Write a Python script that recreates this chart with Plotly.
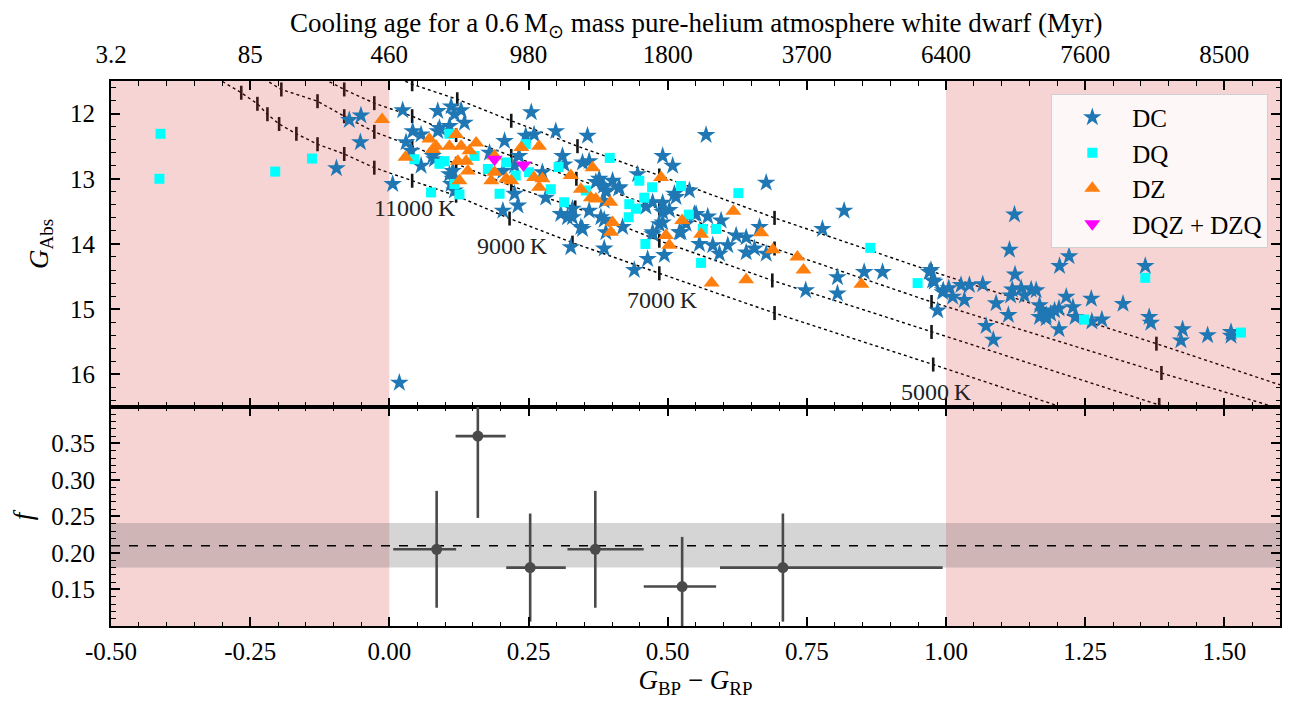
import plotly.graph_objects as go

# ---------------- axis / tick data ----------------
x_range = [-0.5, 1.6]
g_range = [16.5, 11.5]
f_range = [0.10, 0.40]
color_ticks = [-0.5, -0.25, 0.0, 0.25, 0.5, 0.75, 1.0, 1.25, 1.5]
color_ticklabels = ["-0.50", "-0.25", "0.00", "0.25", "0.50", "0.75", "1.00", "1.25", "1.50"]
age_ticklabels = ["3.2", "85", "460", "980", "1800", "3700", "6400", "7600", "8500"]
age_title = "Cooling age for a 0.6\u2009M<sub>\u2299</sub> mass pure-helium atmosphere white dwarf (Myr)"
g_ticks = [12, 13, 14, 15, 16]
f_ticks = [0.15, 0.20, 0.25, 0.30, 0.35]
excluded_ranges = [(-0.5, 0.0), (1.0, 1.6)]

# ---------------- cooling tracks (colour, G) with temperature ticks ----------------
trackA_x = [0.009, 0.041, 0.122, 0.219, 0.338, 0.485, 0.692, 0.974, 1.378, 1.617]
trackA_g = [11.43, 11.55, 11.78, 12.11, 12.50, 12.95, 13.60, 14.42, 15.53, 16.21]
trackB_x = [-0.117, -0.081, -0.027, 0.041, 0.120, 0.219, 0.336, 0.485, 0.692, 0.974, 1.387, 1.617]
trackB_g = [11.47, 11.63, 11.84, 12.04, 12.33, 12.65, 13.00, 13.46, 14.07, 14.89, 15.98, 16.57]
trackC_x = [-0.225, -0.194, -0.129, -0.081, -0.027, 0.041, 0.120, 0.219, 0.334, 0.485, 0.688, 0.974, 1.383, 1.455]
trackC_g = [11.47, 11.63, 11.81, 12.04, 12.28, 12.50, 12.77, 13.11, 13.44, 13.95, 14.56, 15.35, 16.47, 16.69]
trackD_x = [-0.309, -0.266, -0.237, -0.219, -0.198, -0.167, -0.129, -0.081, -0.027, 0.041, 0.120,
            0.216, 0.329, 0.485, 0.692, 0.977, 1.221]
trackD_g = [11.46, 11.68, 11.85, 12.01, 12.16, 12.31, 12.47, 12.62, 12.83, 13.03, 13.26,
            13.61, 13.98, 14.45, 15.06, 15.85, 16.54]
temp_labels = ["11000\u2009K", "9000\u2009K", "7000\u2009K", "5000\u2009K"]
temp_label_idx = [9, 11, 13, 15]   # positions on track D

# ---------------- spectral classes ----------------
dc_x = [-0.072, -0.051, -0.052, -0.095, 0.006,
        0.024, 0.087, 0.111, 0.129, 0.135, 0.117, 0.042, 0.057, 0.087, 0.090, 0.108,
        0.030, 0.039, 0.081, 0.078, 0.057, 0.114, 0.108, 0.111, 0.117, 0.114, 0.180,
        0.207, 0.255, 0.245, 0.260, 0.299, 0.356, 0.311, 0.314, 0.347, 0.359, 0.377, 0.401,
        0.413, 0.389, 0.371, 0.225, 0.231, 0.204, 0.275, 0.281, 0.329, 0.329, 0.347, 0.380,
        0.359, 0.386, 0.308, 0.320, 0.344, 0.389, 0.419, 0.326, 0.386, 0.464, 0.440, 0.494,
        0.491, 0.509, 0.473, 0.491, 0.512, 0.473, 0.491, 0.524, 0.539, 0.548, 0.533,
        0.233, 0.204, 0.225, 0.569, 0.446, 0.385, 0.412, 0.390, 0.677, 0.515, 0.491, 0.503,
        0.461, 0.551, 0.572, 0.596, 0.386, 0.485, 0.521, 0.473, 0.557, 0.581, 0.608, 0.623,
        0.641, 0.641, 0.656, 0.677, 0.665, 0.593, 0.748, 0.805, 0.805, 0.853, 0.886, 0.778,
        0.817, 0.970, 0.976, 0.995, 0.985,
        1.123, 1.114, 1.124, 1.204, 1.221, 1.358, 0.973, 0.979, 0.994, 1.005, 1.012, 1.027,
        1.033, 1.042, 1.066, 1.090, 1.072, 1.085, 1.112, 1.116, 1.119, 1.135, 1.141, 1.153,
        1.162, 1.168, 1.174, 1.180, 1.188, 1.195, 1.203, 1.168, 1.180, 1.216, 1.228, 1.232,
        1.203, 1.261, 1.262, 1.280, 1.318, 1.365, 1.368, 1.425, 1.422, 1.470, 1.512, 1.512,
        0.018]
dc_g = [12.10, 12.03, 12.44, 12.84, 13.08,
        11.95, 11.96, 11.89, 11.95, 12.14, 12.01, 12.27, 12.32, 12.27, 12.22, 12.19,
        12.44, 12.57, 12.70, 12.65, 12.80, 12.88, 12.93, 13.08, 13.18, 13.00, 12.60,
        12.42, 11.98, 12.34, 12.32, 12.27, 12.34, 12.65, 12.78, 12.75, 12.73, 13.00, 13.03,
        13.13, 13.18, 13.05, 13.23, 13.41, 13.49, 12.90, 13.29, 13.46, 13.59, 13.77, 13.59,
        13.49, 13.34, 13.54, 13.59, 13.74, 13.82, 13.74, 14.05, 14.07, 14.23, 14.40, 14.17,
        12.65, 12.80, 13.36, 13.51, 13.23, 13.82, 13.67, 13.82, 13.18, 13.54, 13.69,
        12.65, 12.88, 12.80, 12.33, 12.93, 13.11, 13.15, 13.20, 13.06, 13.28, 13.37, 13.48,
        13.43, 13.54, 13.58, 13.64, 13.63, 13.70, 13.82, 13.85, 14.00, 14.02, 14.02, 13.87,
        13.90, 14.13, 14.07, 14.15, 13.74, 14.15, 14.71, 14.51, 14.76, 14.43, 14.43, 13.77,
        13.49, 14.43, 14.56, 14.71, 15.02,
        13.55, 14.09, 14.47, 14.34, 14.19, 14.34, 14.40, 14.58, 14.74, 14.68, 14.81, 14.63,
        14.86, 14.63, 14.62, 14.91, 15.26, 15.47, 15.09, 14.79, 14.70, 14.68, 14.79, 14.70,
        14.71, 14.94, 15.04, 15.09, 15.07, 15.02, 14.99, 15.12, 15.14, 14.81, 14.97, 15.12,
        15.31, 14.84, 15.19, 15.16, 14.92, 15.12, 15.21, 15.31, 15.48, 15.40, 15.35, 15.41,
        16.13]

dq_x = [-0.411, -0.413, -0.205, -0.139,
        0.045, 0.075, 0.126, 0.108, 0.090, 0.099, 0.117, 0.153, 0.177, 0.198, 0.210, 0.227,
        0.245, 0.251, 0.290, 0.304, 0.314, 0.353,
        0.396, 0.431, 0.449, 0.458, 0.443, 0.430, 0.472, 0.524, 0.460, 0.538, 0.563, 0.587,
        0.560, 0.627, 0.864, 0.949,
        1.358, 1.248, 1.530]
dq_g = [12.31, 13.00, 12.89, 12.69,
        12.70, 13.21, 13.24, 12.31, 12.77, 12.73, 13.08, 12.65, 12.85, 13.23, 12.75, 12.95,
        12.47, 12.90, 13.16, 12.82, 13.36, 13.18,
        12.68, 13.39, 13.03, 13.29, 13.46, 13.59, 13.13, 13.11, 14.00, 13.55, 13.77, 13.77,
        14.29, 13.22, 14.06, 14.60,
        14.52, 15.16, 15.36]

dz_x = [-0.013,
        0.029, 0.072, 0.084, 0.078, 0.120, 0.108, 0.129, 0.144, 0.156, 0.123, 0.138, 0.141, 0.126,
        0.189, 0.189, 0.183, 0.210, 0.219, 0.237, 0.269, 0.260, 0.275, 0.269, 0.326, 0.344,
        0.365, 0.362, 0.371, 0.397, 0.401, 0.398,
        0.488, 0.526, 0.497, 0.503, 0.560, 0.618, 0.668, 0.689, 0.733, 0.744, 0.579, 0.641, 0.848]
dz_g = [12.09,
        12.67, 12.39, 12.50, 12.55, 12.32, 12.50, 12.50, 12.57, 12.45, 12.73, 12.73, 12.88, 13.03,
        12.90, 12.65, 13.03, 13.00, 13.03, 12.52, 12.50, 12.98, 13.00, 13.13, 12.95, 13.16,
        12.83, 13.29, 13.31, 13.36, 13.67, 13.82,
        12.98, 13.64, 13.87, 14.02, 13.85, 13.50, 13.83, 14.09, 14.20, 14.40, 14.60, 14.55, 14.62]

dqz_x = [0.189, 0.241]
dqz_g = [12.70, 12.79]

# ---------------- fraction panel ----------------
f_x = [0.085, 0.159, 0.253, 0.370, 0.526, 0.707]
f_val = [0.205, 0.360, 0.180, 0.205, 0.154, 0.180]
f_bin_lo = [0.007, 0.119, 0.210, 0.320, 0.457, 0.594]
f_bin_hi = [0.120, 0.209, 0.317, 0.457, 0.587, 0.994]
f_err_up = [0.080, 0.112, 0.074, 0.080, 0.068, 0.074]
f_err_down = [0.080, 0.112, 0.074, 0.080, 0.068, 0.074]
f_mean = 0.21
f_mean_lo = 0.18
f_mean_hi = 0.241

FONT = "Liberation Serif"
PINK = "rgba(214,39,40,0.2)"

fig = go.Figure()

# tracks (drawn under the shaded regions)
tracks = [(trackA_x, trackA_g), (trackB_x, trackB_g), (trackC_x, trackC_g), (trackD_x, trackD_g)]
for tx, tg in tracks:
    fig.add_trace(go.Scatter(x=tx, y=tg, mode="lines", line=dict(color="black", width=1.4, dash="dot"),
                             showlegend=False, hoverinfo="skip", xaxis="x", yaxis="y"))
    fig.add_trace(go.Scatter(x=tx[1:-1], y=tg[1:-1], mode="markers",
                             marker=dict(symbol="line-ns", size=10, line=dict(width=2.6, color="#151515")),
                             showlegend=False, hoverinfo="skip", xaxis="x", yaxis="y"))

# shaded excluded colour ranges in top panel
for lo, hi in excluded_ranges:
    fig.add_trace(go.Scatter(x=[lo, hi, hi, lo, lo],
                             y=[g_range[1], g_range[1], g_range[0], g_range[0], g_range[1]],
                             mode="none", fill="toself", fillcolor=PINK,
                             showlegend=False, hoverinfo="skip", xaxis="x", yaxis="y"))

fig.add_trace(go.Scatter(x=dc_x, y=dc_g, mode="markers", name="DC",
                         marker=dict(symbol="star", size=14, color="#1f77b4", line=dict(width=0)),
                         xaxis="x", yaxis="y"))
fig.add_trace(go.Scatter(x=dq_x, y=dq_g, mode="markers", name="DQ",
                         marker=dict(symbol="square", size=10, color="#00ffff", line=dict(width=0)),
                         xaxis="x", yaxis="y"))
fig.add_trace(go.Scatter(x=dz_x, y=dz_g, mode="markers", name="DZ",
                         marker=dict(symbol="triangle-up", size=14, color="#ff7f0e", line=dict(width=0)),
                         xaxis="x", yaxis="y"))
fig.add_trace(go.Scatter(x=dqz_x, y=dqz_g, mode="markers", name="DQZ + DZQ",
                         marker=dict(symbol="triangle-down", size=14, color="#ff00ff", line=dict(width=0)),
                         xaxis="x", yaxis="y"))

# fraction panel
fig.add_trace(go.Scatter(
    x=f_x, y=f_val, mode="markers", showlegend=False,
    marker=dict(size=11, color="#4a4a4a"),
    error_x=dict(type="data", symmetric=False,
                 array=[h - x for h, x in zip(f_bin_hi, f_x)],
                 arrayminus=[x - l for l, x in zip(f_bin_lo, f_x)],
                 thickness=2.6, width=0, color="#4a4a4a"),
    error_y=dict(type="data", symmetric=False, array=f_err_up, arrayminus=f_err_down,
                 thickness=2.6, width=0, color="#4a4a4a"),
    xaxis="x2", yaxis="y2"))

shapes = []
for lo, hi in excluded_ranges:
    shapes.append(dict(type="rect", xref="x2", yref="y2 domain", x0=lo, x1=hi, y0=0, y1=1,
                       fillcolor=PINK, line=dict(width=0), layer="below"))
shapes.append(dict(type="rect", xref="x2 domain", yref="y2", x0=0, x1=1, y0=f_mean_lo, y1=f_mean_hi,
                   fillcolor="rgba(100,100,100,0.27)", line=dict(width=0), layer="below"))
shapes.append(dict(type="line", xref="x2 domain", yref="y2", x0=0, x1=1, y0=f_mean, y1=f_mean,
                   line=dict(color="black", width=1.5, dash="dash"), layer="below"))

annotations = []
for txt, i in zip(temp_labels, temp_label_idx):
    annotations.append(dict(x=trackD_x[i], y=trackD_g[i], xref="x", yref="y", text=txt,
                            showarrow=False, yshift=-27, xshift=3,
                            font=dict(family=FONT, size=24, color="#222")))
# top-axis title
annotations.append(dict(x=0.5, y=1, xref="paper", yref="paper", text=age_title, showarrow=False,
                        xanchor="center", yanchor="middle", yshift=56,
                        font=dict(family=FONT, size=27, color="black")))

axis_common = dict(showline=True, linewidth=2, linecolor="black", mirror="allticks",
                   ticks="inside", ticklen=9, tickwidth=1.6, tickcolor="black",
                   showgrid=False, zeroline=False, automargin=False,
                   tickfont=dict(family=FONT, size=25, color="black"))

D = 0.402
fig.update_layout(
    width=1287, height=698,
    margin=dict(l=103, r=15, t=73, b=80),
    paper_bgcolor="white", plot_bgcolor="white",
    font=dict(family=FONT, size=25, color="black"),
    shapes=shapes, annotations=annotations,
    legend=dict(x=0.99, y=0.977, xanchor="right", yanchor="top",
                bgcolor="rgba(255,255,255,0.8)", bordercolor="#d0d0d0", borderwidth=1,
                font=dict(family=FONT, size=25), tracegroupgap=0, itemwidth=70),
    xaxis=dict(domain=[0, 1], anchor="y", range=x_range, side="top",
               tickmode="array", tickvals=color_ticks, ticktext=age_ticklabels,
               ticklabelstandoff=6,
               minor=dict(ticks="inside", ticklen=4.5, tickwidth=1.3, dtick=0.05, tick0=0, tickcolor="black"),
               **axis_common),
    yaxis=dict(domain=[D, 1], anchor="x", range=g_range,
               tickmode="array", tickvals=g_ticks, ticktext=[str(v) for v in g_ticks],
               ticklabelstandoff=9,
               minor=dict(ticks="inside", ticklen=4.5, tickwidth=1.3, dtick=0.2, tick0=12, tickcolor="black"),
               title=dict(text="<i>G</i><sub>Abs</sub>", font=dict(family=FONT, size=27), standoff=14),
               **axis_common),
    xaxis2=dict(domain=[0, 1], anchor="y2", range=x_range,
                tickmode="array", tickvals=color_ticks, ticktext=color_ticklabels,
                ticklabelstandoff=2,
                minor=dict(ticks="inside", ticklen=4.5, tickwidth=1.3, dtick=0.05, tick0=0, tickcolor="black"),
                title=dict(text="<i>G</i><sub>BP</sub> \u2212 <i>G</i><sub>RP</sub>",
                           font=dict(family=FONT, size=27), standoff=2),
                **axis_common),
    yaxis2=dict(domain=[0, D], anchor="x2", range=f_range,
                tickmode="array", tickvals=f_ticks, ticktext=["%.2f" % v for v in f_ticks],
                ticklabelstandoff=9,
                minor=dict(ticks="inside", ticklen=4.5, tickwidth=1.3, dtick=0.01, tick0=0.1, tickcolor="black"),
                title=dict(text="<i>f</i>", font=dict(family=FONT, size=27), standoff=14),
                **axis_common),
)

fig.write_html("out.html")
